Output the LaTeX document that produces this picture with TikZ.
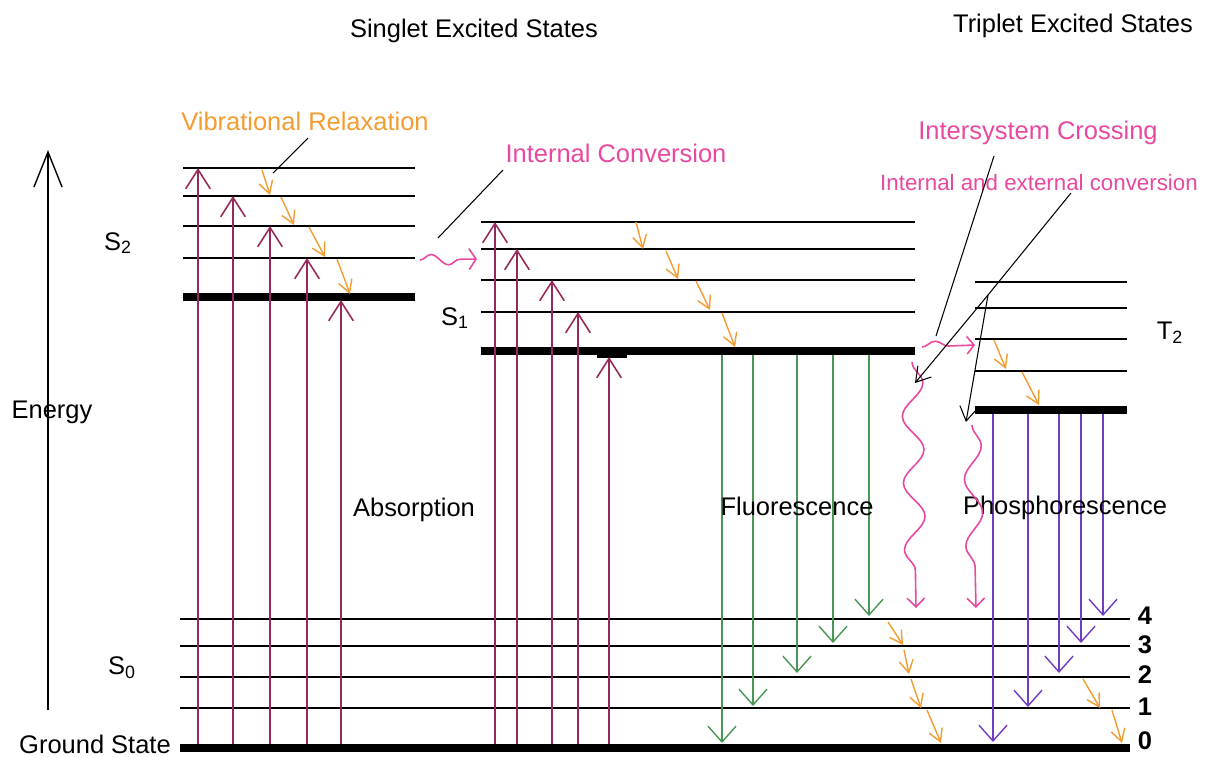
\documentclass[tikz,border=0pt]{standalone}
\usepackage{fontspec}
\setmainfont{Liberation Sans}
\usetikzlibrary{arrows.meta,decorations.pathmorphing}
\definecolor{absorb}{RGB}{150,40,90}
\definecolor{vibr}{RGB}{243,156,48}
\definecolor{conv}{RGB}{232,72,160}
\definecolor{fluo}{RGB}{74,150,84}
\definecolor{phos}{RGB}{112,62,196}
\tikzset{
  level/.style={line width=0.9pt},
  band/.style={line width=4.6pt},
  pointer/.style={line width=0.6pt},
  up/.style={absorb,line width=0.9pt,-{Straight Barb[length=11pt,width=14pt]}},
  relax/.style={vibr,line width=0.8pt,-{Straight Barb[length=7pt,width=8pt]}},
  emit/.style={line width=0.8pt,-{Straight Barb[length=9pt,width=16pt]}},
  wiggle/.style={conv,line width=0.9pt,decorate,
    decoration={snake,amplitude=#1,segment length=38pt,post length=6pt}},
}
\begin{document}
\begin{tikzpicture}[x=0.02cm,y=-0.02cm,font=\fontsize{14.5}{17}\selectfont]
  \useasboundingbox (0,0) rectangle (1205,758);
  % headings
  \node (singlet) at (474,31) {Singlet Excited States};
  \node (triplet) at (1073,26) {Triplet Excited States};
  \node[vibr] (vr) at (305,121) {Vibrational Relaxation};
  \node[conv] (ic) at (616,153) {Internal Conversion};
  \node[conv] (isc) at (1038,133) {Intersystem Crossing};
  \node[conv,font=\fontsize{12.7}{15}\selectfont] (iec) at (1039,183) {Internal and external conversion};
  % energy axis
  \draw[line width=0.8pt,-{Straight Barb[length=20pt,width=16pt]}] (48,710) -- (48,150);
  \node (energy) at (52,412) {Energy};
  % S2 levels
  \foreach \y in {168,196,226,258} \draw[level] (183,\y) -- (415,\y);
  \draw[band] (183,297) -- (415,297);
  \node (s2) at (118,243) {S\textsubscript{2}};
  % S1 levels
  \foreach \y in {222,249,280,312} \draw[level] (481,\y) -- (915,\y);
  \draw[band] (481,351) -- (915,351);
  \fill (597,351) rectangle (627,358);
  \node (s1) at (455,318) {S\textsubscript{1}};
  % T2 levels
  \foreach \y in {282,308,339,371} \draw[level] (975,\y) -- (1127,\y);
  \draw[band] (975,410) -- (1127,410);
  \node (t2) at (1170,333) {T\textsubscript{2}};
  % S0 levels
  \foreach \y in {619,646,677,708} \draw[level] (180,\y) -- (1130,\y);
  \draw[band] (180,748) -- (1130,748);
  \node (s0) at (122,668) {S\textsubscript{0}};
  \node (gs) at (95,744) {Ground State};
  \node[font=\fontsize{14.5}{17}\bfseries] (n4) at (1145,616) {4};
  \node[font=\fontsize{14.5}{17}\bfseries] (n3) at (1145,645) {3};
  \node[font=\fontsize{14.5}{17}\bfseries] (n2) at (1145,675) {2};
  \node[font=\fontsize{14.5}{17}\bfseries] (n1) at (1145,707) {1};
  \node[font=\fontsize{14.5}{17}\bfseries] (n0) at (1145,741) {0};
  % absorption
  \draw[up] (198,744) -- (198,168);
  \draw[up] (233,744) -- (233,196);
  \draw[up] (270,744) -- (270,226);
  \draw[up] (307,744) -- (307,258);
  \draw[up] (341,744) -- (341,300);
  \draw[up] (495,744) -- (495,222);
  \draw[up] (517,744) -- (517,249);
  \draw[up] (552,744) -- (552,280);
  \draw[up] (578,744) -- (578,312);
  \draw[up] (609,744) -- (609,357);
  \node (abs) at (414,510) {Absorption};
  % vibrational relaxation
  \draw[relax] (262,170) -- (270,195);
  \draw[relax] (281,197) -- (294,225);
  \draw[relax] (309,227) -- (325,257);
  \draw[relax] (337,259) -- (350,294);
  \draw[relax] (636,222) -- (643,249);
  \draw[relax] (666,251) -- (678,279);
  \draw[relax] (696,281) -- (710,310);
  \draw[relax] (722,313) -- (735,347);
  \draw[relax] (994,340) -- (1006,369);
  \draw[relax] (1022,372) -- (1039,405);
  \draw[relax] (888,622) -- (903,645);
  \draw[relax] (904,650) -- (909,674);
  \draw[relax] (911,679) -- (921,708);
  \draw[relax] (927,710) -- (941,743);
  \draw[relax] (1083,679) -- (1100,708);
  \draw[relax] (1112,710) -- (1122,743);
  % fluorescence
  \draw[emit,fluo] (722,355) -- (722,743);
  \draw[emit,fluo] (753,355) -- (753,706);
  \draw[emit,fluo] (797,355) -- (797,673);
  \draw[emit,fluo] (833,355) -- (833,643);
  \draw[emit,fluo] (869,355) -- (869,616);
  \node (fl) at (797,506) {Fluorescence};
  % phosphorescence
  \draw[emit,phos] (993,414) -- (993,742);
  \draw[emit,phos] (1028,414) -- (1028,707);
  \draw[emit,phos] (1059,414) -- (1059,673);
  \draw[emit,phos] (1081,414) -- (1081,643);
  \draw[emit,phos] (1103,414) -- (1103,616);
  \node (ph) at (1065,508) {Phosphorescence};
  % conversions
  \draw[wiggle=3pt,decoration={segment length=20pt},-{Straight Barb[length=4pt,width=12pt]}] (420,260) -- (477,259);
  \draw[wiggle=3pt,decoration={segment length=24pt},-{Straight Barb[length=4pt,width=10pt]}] (922,347) -- (975,345);
  \draw[wiggle=6pt,-{Straight Barb[length=5pt,width=10pt]}] (912,362) -- (916,608);
  \draw[wiggle=5pt,-{Straight Barb[length=5pt,width=10pt]}] (972,425) -- (976,608);
  % pointers
  \draw[pointer] (308,138) -- (273,173);
  \draw[pointer] (503,170) -- (438,238);
  \draw[pointer] (994,156) -- (936,336);
  \coordinate (fork) at (988,295);
  \draw[pointer,-{Straight Barb[length=8pt,width=10pt]}] (1071,193) -- (fork) -- (915,383);
  \draw[pointer,-{Straight Barb[length=8pt,width=10pt]}] (fork) -- (966,422);
\end{tikzpicture}
\end{document}
